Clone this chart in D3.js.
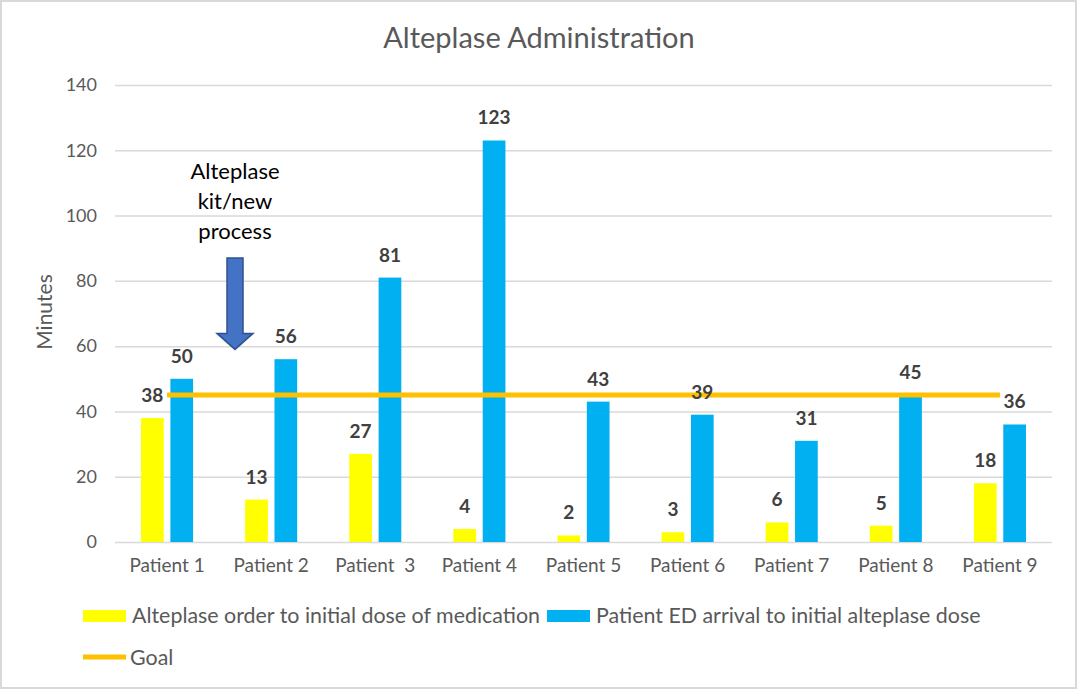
<!DOCTYPE html>
<meta charset="utf-8">
<style>
body { margin: 0; background: #fff; }
text { font-family: Lato, "Open Sans", sans-serif; }
</style>
<body>
<script src="https://cdnjs.cloudflare.com/ajax/libs/d3/7.8.5/d3.min.js"></script>
<script>
// data
var patients = ["Patient 1", "Patient 2", "Patient  3", "Patient 4", "Patient 5", "Patient 6", "Patient 7", "Patient 8", "Patient 9"];
var orderToDose = [38, 13, 27, 4, 2, 3, 6, 5, 18];
var arrivalToDose = [50, 56, 81, 123, 43, 39, 31, 45, 36];
var goal = [45, 45, 45, 45, 45, 45, 45, 45, 45];
var yTicks = [0, 20, 40, 60, 80, 100, 120, 140];
var seriesNames = ["Alteplase order to initial dose of medication", "Patient ED arrival to initial alteplase dose", "Goal"];
var note = ["Alteplase", "kit/new", "process"];

var W = 1078, H = 690;
var plotLeft = 115, plotRight = 1052, plotTop = 85, plotBottom = 542;
var yellow = "#ffff00", blue = "#00b0f0", gold = "#ffc000";
var grey = "#595959";

var svg = d3.select("body").append("svg")
	.attr("width", W)
	.attr("height", H);

// chart frame
svg.append("rect")
	.attr("x", 1).attr("y", 1)
	.attr("width", W - 3).attr("height", H - 3)
	.attr("fill", "#fff")
	.attr("stroke", "#d9d9d9")
	.attr("stroke-width", 2);

var x = d3.scaleBand().domain(patients).range([plotLeft, plotRight]);
var y = d3.scaleLinear().domain([0, 140]).range([plotBottom, plotTop]);

var bw = x.bandwidth();
var barW = bw * 0.218, gap = bw * 0.064;
function cx(d) { return x(d) + bw / 2; }

// gridlines
var grid = svg.append("g")
	.attr("transform", "translate(" + plotLeft + ",0)")
	.call(d3.axisLeft(y).tickValues(yTicks).tickSize(-(plotRight - plotLeft)).tickFormat(""));
grid.select(".domain").remove();
grid.selectAll("line").attr("stroke", "#d9d9d9").attr("stroke-width", 1.5);

// y tick labels
var yAxis = svg.append("g")
	.attr("transform", "translate(" + (plotLeft - 18) + ",0)")
	.call(d3.axisLeft(y).tickValues(yTicks).tickSize(0).tickPadding(0));
yAxis.select(".domain").remove();
yAxis.selectAll("text")
	.attr("fill", grey)
	.style("font-size", "18px")
	.style("font-family", "Lato, sans-serif");

// x labels
var xAxis = svg.append("g")
	.attr("transform", "translate(0," + plotBottom + ")")
	.call(d3.axisBottom(x).tickSize(0).tickPadding(17));
xAxis.select(".domain").remove();
xAxis.selectAll("text")
	.attr("fill", grey)
	.style("font-size", "19px")
	.style("font-family", "Lato, sans-serif")
	.style("white-space", "pre");

// bars
svg.selectAll(".bar1")
	.data(patients)
	.enter().append("rect")
	.attr("x", function(d) { return cx(d) - gap / 2 - barW; })
	.attr("y", function(d, i) { return y(orderToDose[i]); })
	.attr("width", barW)
	.attr("height", function(d, i) { return plotBottom - y(orderToDose[i]); })
	.attr("fill", yellow);

svg.selectAll(".bar2")
	.data(patients)
	.enter().append("rect")
	.attr("x", function(d) { return cx(d) + gap / 2; })
	.attr("y", function(d, i) { return y(arrivalToDose[i]); })
	.attr("width", barW)
	.attr("height", function(d, i) { return plotBottom - y(arrivalToDose[i]); })
	.attr("fill", blue);

// goal line
var line = d3.line()
	.x(function(d, i) { return cx(patients[i]); })
	.y(function(d) { return y(d); });
svg.append("path")
	.datum(goal)
	.attr("d", line)
	.attr("fill", "none")
	.attr("stroke", gold)
	.attr("stroke-width", 5);

// data labels
function labels(vals, dx) {
	svg.selectAll(null)
		.data(vals)
		.enter().append("text")
		.attr("x", function(d, i) { return cx(patients[i]) + dx; })
		.attr("y", function(d) { return y(d) - 16; })
		.attr("text-anchor", "middle")
		.attr("fill", "#404040")
		.style("font-size", "19px")
		.style("font-weight", "bold")
		.text(function(d) { return d; });
}
labels(orderToDose, -gap / 2 - barW / 2);
labels(arrivalToDose, gap / 2 + barW / 2);

// title
svg.append("text")
	.attr("x", 539).attr("y", 48)
	.attr("text-anchor", "middle")
	.attr("fill", grey)
	.style("font-size", "29px")
	.text("Alteplase Administration");

// y axis title
svg.append("text")
	.attr("transform", "translate(52,312) rotate(-90)")
	.attr("text-anchor", "middle")
	.attr("fill", grey)
	.style("font-size", "21px")
	.text("Minutes");

// annotation
svg.append("g").selectAll("text")
	.data(note)
	.enter().append("text")
	.attr("x", 235)
	.attr("y", function(d, i) { return 179 + i * 30; })
	.attr("text-anchor", "middle")
	.attr("fill", "#000")
	.style("font-size", "22px")
	.text(function(d) { return d; });

var ax = 235, shaftW = 16, headW = 36, headH = 16;
var aTop = y(87), aTip = y(59);
svg.append("path")
	.attr("d", "M" + (ax - shaftW / 2) + "," + aTop +
		"H" + (ax + shaftW / 2) +
		"V" + (aTip - headH) +
		"H" + (ax + headW / 2) +
		"L" + ax + "," + aTip +
		"L" + (ax - headW / 2) + "," + (aTip - headH) +
		"H" + (ax - shaftW / 2) + "Z")
	.attr("fill", "#4472c4")
	.attr("stroke", "#2f528f")
	.attr("stroke-width", 1.5);

// legend
var lg = svg.append("g");
lg.append("rect").attr("x", 83).attr("y", 610).attr("width", 43).attr("height", 12).attr("fill", yellow);
var t1 = lg.append("text").attr("x", 132).attr("y", 623)
	.attr("fill", grey).style("font-size", "21.4px").text(seriesNames[0]);
var x2 = 132 + t1.node().getComputedTextLength() + 7;
lg.append("rect").attr("x", x2).attr("y", 610).attr("width", 43).attr("height", 12).attr("fill", blue);
lg.append("text").attr("x", x2 + 49).attr("y", 623)
	.attr("fill", grey).style("font-size", "21.4px").text(seriesNames[1]);
lg.append("line").attr("x1", 83).attr("x2", 126).attr("y1", 657).attr("y2", 657)
	.attr("stroke", gold).attr("stroke-width", 5);
lg.append("text").attr("x", 130).attr("y", 665)
	.attr("fill", grey).style("font-size", "21.4px").text(seriesNames[2]);
</script>
</body>
